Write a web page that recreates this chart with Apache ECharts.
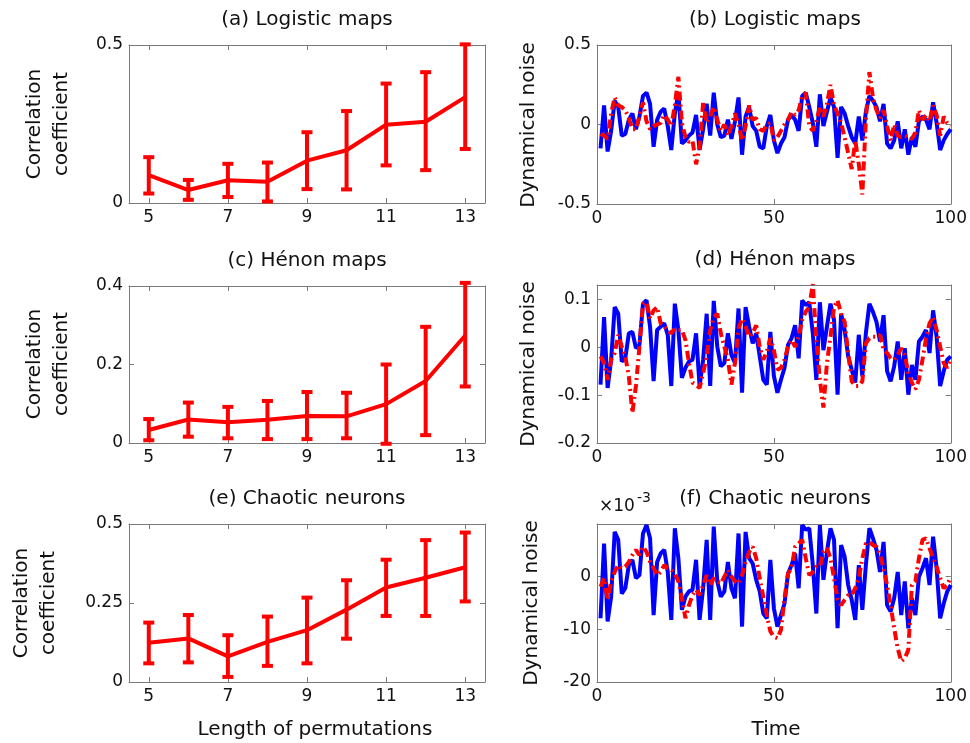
<!DOCTYPE html>
<html><head><meta charset="utf-8">
<script src="https://cdn.jsdelivr.net/npm/echarts@6/dist/echarts.min.js"></script>
<style>html,body{margin:0;padding:0;background:#fff}#c{width:970px;height:743px}</style>
</head><body><div id="c"></div>
<script>
// ---------- DATA ----------
const permLengths = [5, 6, 7, 8, 9, 10, 11, 12, 13];
const permTicks = [5, 7, 9, 11, 13];
const timeTicks = [0, 50, 100];

const aMean = [0.088, 0.041, 0.072, 0.067, 0.134, 0.167, 0.248, 0.257, 0.335];
const aLow  = [0.030, 0.010, 0.019, 0.005, 0.044, 0.043, 0.119, 0.104, 0.171];
const aHigh = [0.145, 0.073, 0.124, 0.128, 0.224, 0.291, 0.378, 0.414, 0.502];

const cMean = [0.033, 0.060, 0.053, 0.059, 0.069, 0.068, 0.099, 0.158, 0.274];
const cLow  = [0.007, 0.016, 0.012, 0.010, 0.010, 0.012, -0.002, 0.020, 0.144];
const cHigh = [0.061, 0.103, 0.092, 0.107, 0.130, 0.128, 0.200, 0.296, 0.408];

const eMean = [0.124, 0.138, 0.081, 0.127, 0.164, 0.229, 0.299, 0.330, 0.363];
const eLow  = [0.059, 0.062, 0.016, 0.051, 0.059, 0.137, 0.209, 0.209, 0.255];
const eHigh = [0.188, 0.212, 0.148, 0.207, 0.267, 0.322, 0.387, 0.449, 0.473];

const aTicks = [0, 0.5];
const cTicks = [0, 0.2, 0.4];
const eTicks = [0, 0.25, 0.5];
const bTicks = [-0.5, 0, 0.5];
const dTicks = [-0.2, -0.1, 0, 0.1];
const fTicks = [-20, -10, 0];

// (b) logistic maps, time 1..100
const bBlue = [-0.15,0.12,-0.17,-0.04,0.15,0.11,-0.07,-0.06,0.03,0.07,
  -0.03,0.05,0.18,0.2,0.13,-0.14,0.03,0.08,0.1,-0.01,
  -0.16,0.07,0.2,-0.12,-0.1,-0.07,-0.05,0.06,-0.16,-0.03,
  0.13,-0.07,0.2,0.0,-0.08,-0.07,0.03,-0.09,0.02,0.17,
  -0.19,0.05,0.11,-0.01,-0.04,-0.14,-0.15,-0.01,0.06,-0.1,
  -0.18,-0.12,-0.08,0.03,0.06,0.03,-0.04,0.18,0.2,0.11,
  0.01,-0.14,0.19,-0.01,0.08,0.17,0.11,-0.21,0.11,0.07,
  -0.01,-0.08,-0.12,0.05,-0.1,0.08,0.18,0.15,0.11,0.02,
  0.13,-0.12,-0.15,-0.1,0.02,-0.15,-0.03,-0.19,-0.08,-0.14,
  0.02,0.05,0.03,-0.03,0.14,0.01,-0.16,-0.1,-0.06,-0.03];
const bRed = [-0.06,-0.07,-0.09,0.07,0.17,0.12,0.11,0.09,0.04,-0.03,
  -0.03,0.05,0.14,0.02,-0.03,-0.01,0.0,0.01,0.06,0.03,
  -0.01,0.12,0.3,0.01,-0.08,-0.11,-0.1,-0.25,-0.14,0.14,
  0.01,0.05,0.11,0.03,-0.04,0.0,-0.07,-0.01,0.07,0.0,
  -0.1,-0.01,0.12,0.03,0.04,-0.03,-0.04,0.0,0.01,-0.1,
  -0.08,-0.04,0.0,0.03,0.08,0.06,0.09,0.18,0.2,-0.01,
  -0.04,0.02,0.11,0.05,0.13,0.25,0.12,0.07,0.01,-0.08,
  -0.18,-0.28,-0.1,-0.25,-0.44,0.03,0.33,0.17,0.09,0.04,
  0.09,-0.01,-0.1,0.0,-0.07,-0.08,-0.07,-0.08,-0.09,-0.05,
  0.09,0.03,0.06,0.02,0.12,0.06,-0.07,0.05,0.01,-0.01];

// (d) Hénon maps
const dBlue = [-0.078,0.063,-0.085,-0.026,0.084,0.07,-0.03,-0.023,0.029,0.032,
  -0.002,0.005,0.091,0.098,0.043,-0.071,0.036,0.043,0.05,0.026,
  -0.081,0.091,0.036,-0.064,-0.043,-0.03,-0.026,0.029,-0.081,-0.026,
  0.07,-0.081,0.097,0.001,-0.04,-0.033,0.029,-0.016,-0.033,0.081,
  -0.095,0.084,0.043,0.008,0.029,-0.019,-0.068,-0.078,0.032,-0.06,
  -0.095,-0.068,-0.043,0.005,0.019,0.046,-0.023,0.098,0.088,0.094,
  0.029,-0.068,0.094,-0.006,0.043,0.091,0.057,-0.099,0.07,0.036,
  -0.019,-0.047,-0.074,0.026,-0.061,0.029,0.091,0.074,0.053,0.012,
  0.067,-0.05,-0.071,-0.04,0.012,-0.068,-0.002,-0.099,-0.037,-0.068,
  0.012,0.022,0.036,-0.012,0.077,0.022,-0.081,-0.05,-0.026,-0.019];
const dRed = [-0.019,-0.033,-0.068,-0.026,-0.012,0.026,0.001,-0.019,-0.061,-0.137,
  -0.081,0.001,0.091,0.094,0.06,0.077,0.084,0.05,0.043,0.036,
  0.029,0.039,0.036,0.036,0.015,-0.033,-0.074,-0.078,-0.085,-0.054,
  -0.019,0.036,0.063,0.07,0.029,0.001,-0.026,-0.078,-0.033,0.039,
  0.06,0.043,0.022,0.029,0.046,0.001,-0.026,-0.009,0.019,-0.006,
  -0.047,-0.043,-0.026,0.001,0.015,0.001,0.022,0.057,0.074,0.084,
  0.132,0.015,-0.068,-0.126,-0.033,0.022,0.084,0.098,0.07,0.053,
  -0.012,-0.071,-0.081,-0.081,-0.071,0.008,0.019,0.022,0.022,0.026,
  -0.006,-0.012,-0.023,-0.026,-0.016,-0.002,-0.016,-0.054,-0.074,-0.088,
  -0.068,-0.026,0.019,0.05,0.063,0.036,0.001,-0.033,-0.043,-0.023];

// (f) chaotic neurons, values in units of 1e-3
const fBlue = [-7.9,6.3,-8.5,-3.8,8.5,7.0,-3.2,-2.2,2.2,3.2,
  -0.3,0.3,8.2,9.8,7.3,-7.3,2.8,4.4,5.1,0.9,
  -8.2,9.2,3.5,-6.3,-3.8,-2.8,-2.5,3.2,-8.2,-2.2,
  7.0,-8.2,9.5,-0.9,-3.8,-2.8,2.8,-2.2,-4.1,8.2,
  -9.5,8.5,3.5,2.5,-0.6,-2.8,-7.0,-7.9,3.2,-6.0,
  -9.5,-7.3,-5.1,0.6,2.2,4.4,-2.2,9.8,8.9,9.2,
  2.2,-7.0,9.8,-0.6,4.7,9.2,7.0,-9.8,6.0,3.8,
  -1.6,-4.4,-8.2,2.2,-6.3,2.2,9.2,7.3,5.1,0.9,
  6.6,-5.4,-6.6,-4.1,0.9,-7.3,-0.9,-9.8,-4.1,-7.3,
  0,1.6,3.5,-1.6,7.6,1.6,-7.9,-5.1,-2.8,-1.6];
const fRed = [-1.9,-0.3,-4.4,-0.9,0.9,2.2,1.6,1.9,2.8,4.1,
  5.1,4.1,5.7,4.7,2.8,1.6,0.3,0.9,2.2,1.6,
  1.3,0.6,-0.9,-4.1,-7.9,-5.4,-3.5,-2.5,-3.5,-1.6,
  0.3,-1.6,-0.3,-0.9,-1.3,0,1.3,0,-0.9,-1.3,
  0.3,2.8,4.7,5.7,3.5,-0.3,-3.8,-7.3,-10.4,-11.4,
  -11.7,-10.1,-4.1,0.6,1.6,5.7,6.3,7.0,3.5,0.3,
  0.9,1.9,1.9,4.7,5.4,3.5,-0.3,-4.4,-5.4,-4.4,
  -3.5,-3.5,-2.2,-0.3,3.5,6.3,6.6,6.0,5.7,4.1,
  1.6,-1.6,-5.4,-9.8,-13.6,-16.1,-15.5,-13.9,-1.6,-0.9,
  3.5,7.0,7.3,5.4,3.5,1.9,-0.3,-2.2,-1.6,0];

const titles = ['(a) Logistic maps','(b) Logistic maps','(c) Hénon maps','(d) Hénon maps','(e) Chaotic neurons','(f) Chaotic neurons'];

// ---------- BUILD ----------
const FONT = '"DejaVu Sans", sans-serif';
const RED = '#ff0000', BLUE = '#0000ff', BOX = '#7a7a7a', TXT = '#111';
const grids = [
  {left:129, top:45, width:356, height:158},
  {left:597, top:45, width:356, height:159},
  {left:129, top:286, width:356, height:157},
  {left:597, top:285, width:356, height:158},
  {left:129, top:524, width:356, height:158},
  {left:597, top:524, width:356, height:158}
];
const yCfg = [
  {min:0, max:0.5, ticks:aTicks},
  {min:-0.5, max:0.5, ticks:bTicks},
  {min:0, max:0.4, ticks:cTicks},
  {min:-0.2, max:0.13, ticks:dTicks},
  {min:0, max:0.5, ticks:eTicks},
  {min:-20, max:10, ticks:fTicks}
];
const xAxes = [], yAxes = [], series = [];
grids.forEach((g, i) => {
  const left = i % 2 === 0;
  const xmin = left ? 4.5 : 0, xmax = left ? 13.5 : 100;
  const xt = left ? permTicks : timeTicks;
  ['bottom','top'].forEach((pos, k) => {
    xAxes.push({
      type:'value', gridIndex:i, position:pos, min:xmin, max:xmax,
      axisLine:{show:true, onZero:false, lineStyle:{color:BOX, width:1}},
      axisTick:{show:true, inside:true, length:5, lineStyle:{color:BOX}, customValues:xt},
      axisLabel:{show:k===0, customValues:xt, fontSize:17, color:TXT, fontFamily:FONT, margin:6},
      splitLine:{show:false}
    });
  });
  const yc = yCfg[i];
  ['left','right'].forEach((pos, k) => {
    yAxes.push({
      type:'value', gridIndex:i, position:pos, min:yc.min, max:yc.max,
      axisLine:{show:true, onZero:false, lineStyle:{color:BOX, width:1}},
      axisTick:{show:true, inside:true, length:5, lineStyle:{color:BOX}, customValues:yc.ticks},
      axisLabel:{show:k===0, customValues:yc.ticks, fontSize:17, color:TXT, fontFamily:FONT, margin:6},
      splitLine:{show:false}
    });
  });
});

function errPanel(idx, mean, lo, hi) {
  series.push({
    type:'line', xAxisIndex:2*idx, yAxisIndex:2*idx, symbol:'none',
    data: permLengths.map((x, j) => [x, mean[j]]),
    lineStyle:{color:RED, width:4}, itemStyle:{color:RED}, z:3
  });
  series.push({
    type:'custom', xAxisIndex:2*idx, yAxisIndex:2*idx, clip:false,
    data: permLengths.map((x, j) => [x, lo[j], hi[j]]),
    encode:{x:0, y:[1,2]},
    renderItem: function(params, api) {
      const x = api.value(0);
      const p1 = api.coord([x, api.value(1)]);
      const p2 = api.coord([x, api.value(2)]);
      const w = 5.5;
      const st = {stroke:RED, lineWidth:4};
      return {type:'group', children:[
        {type:'line', shape:{x1:p1[0], y1:p1[1], x2:p2[0], y2:p2[1]}, style:st},
        {type:'line', shape:{x1:p1[0]-w, y1:p1[1], x2:p1[0]+w, y2:p1[1]}, style:st},
        {type:'line', shape:{x1:p2[0]-w, y1:p2[1], x2:p2[0]+w, y2:p2[1]}, style:st}
      ]};
    }, z:3
  });
}
function noisePanel(idx, blue, red) {
  series.push({
    type:'line', xAxisIndex:2*idx, yAxisIndex:2*idx, symbol:'none', clip:false,
    data: blue.map((v, j) => [j + 1, v]),
    lineStyle:{color:BLUE, width:4}, z:2
  });
  series.push({
    type:'line', xAxisIndex:2*idx, yAxisIndex:2*idx, symbol:'none', clip:false,
    data: red.map((v, j) => [j + 1, v]),
    lineStyle:{color:RED, width:4, type:[9,4,2,4]}, z:3
  });
}
errPanel(0, aMean, aLow, aHigh);
noisePanel(1, bBlue, bRed);
errPanel(2, cMean, cLow, cHigh);
noisePanel(3, dBlue, dRed);
errPanel(4, eMean, eLow, eHigh);
noisePanel(5, fBlue, fRed);

const graphic = [];
const tStyle = (text, size) => ({text, fontSize:size, fontFamily:FONT, fill:TXT, align:'center', verticalAlign:'middle'});
grids.forEach((g, i) => {
  const cx = g.left + g.width / 2;
  graphic.push({type:'text', x:cx, y:g.top - 25, style:tStyle(titles[i], 20)});
});
// y-axis names
[[48, 124],[48, 364],[35, 603]].forEach(([x, y]) => {
  graphic.push({type:'text', x, y, rotation:Math.PI/2,
    style:Object.assign(tStyle('Correlation\ncoefficient', 20), {lineHeight:27})});
});
[[529, 125],[529, 364],[532, 603]].forEach(([x, y]) => {
  graphic.push({type:'text', x, y, rotation:Math.PI/2, style:tStyle('Dynamical noise', 20)});
});
graphic.push({type:'text', x:315, y:730, style:tStyle('Length of permutations', 20)});
graphic.push({type:'text', x:776, y:730, style:tStyle('Time', 20)});
graphic.push({type:'text', x:599, y:507, style:{text:'×10', fontSize:17, fontFamily:FONT, fill:TXT, verticalAlign:'middle'}});
graphic.push({type:'text', x:637, y:498, style:{text:'-3', fontSize:14, fontFamily:FONT, fill:TXT, verticalAlign:'middle'}});

const chart = echarts.init(document.getElementById('c'), null, {renderer:'canvas'});
chart.setOption({
  animation:false,
  backgroundColor:'#fff',
  grid: grids,
  xAxis: xAxes,
  yAxis: yAxes,
  series: series,
  graphic: graphic
});
</script></body></html>
